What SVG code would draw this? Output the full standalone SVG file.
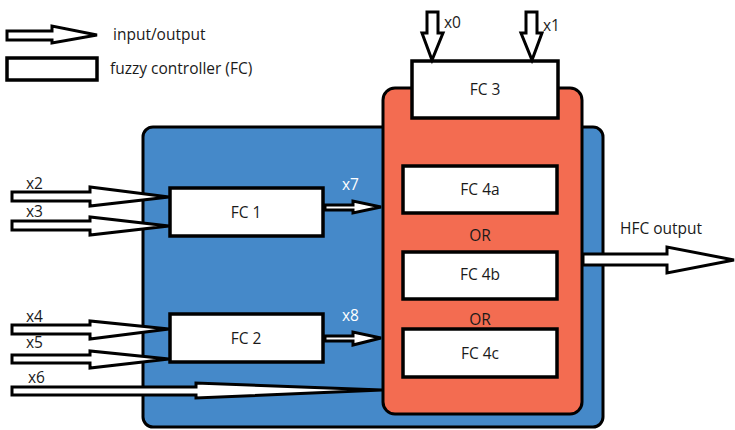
<svg xmlns="http://www.w3.org/2000/svg" width="735" height="430" viewBox="0 0 735 430">
<style>
.txt{font-family:"Open Sans","Noto Sans",sans-serif;font-size:15.5px;fill:#1a1a1a}
.wt{font-family:"Open Sans","Noto Sans",sans-serif;font-size:15.5px;fill:#ffffff}
.box{fill:#ffffff;stroke:#000;stroke-width:3.5}
.arr{fill:#ffffff;stroke:#000;stroke-width:3;stroke-linejoin:miter}
</style>
<rect width="735" height="430" fill="#ffffff"/>
<g id="legend">
<polygon class="arr" points="7,31 52,31 52,26 97,35 52,43 52,40 7,40"/>
<text class="txt" x="113" y="40">input/output</text>
<rect class="box" x="7" y="58" width="90" height="22"/>
<text class="txt" x="110" y="74">fuzzy controller (FC)</text>
</g>
<g id="hfc-block">
<rect x="143" y="127" width="460" height="300" rx="10" fill="#4589C9" stroke="#000" stroke-width="3"/>
</g>
<g id="fc4-group">
<rect x="383" y="88" width="199" height="326" rx="12" fill="#F36C51" stroke="#000" stroke-width="3"/>
</g>
<g id="fc3">
<rect class="box" x="412" y="61" width="146" height="57"/>
<text class="txt" x="485" y="95" text-anchor="middle">FC 3</text>
</g>
<g id="fc1">
<rect class="box" x="170" y="188" width="153" height="48"/>
<text class="txt" x="246" y="218" text-anchor="middle">FC 1</text>
</g>
<g id="fc2">
<rect class="box" x="170" y="314" width="153" height="48"/>
<text class="txt" x="246" y="344" text-anchor="middle">FC 2</text>
</g>
<g id="fc4a">
<rect class="box" x="403" y="166" width="154" height="47"/>
<text class="txt" x="480" y="195" text-anchor="middle">FC 4a</text>
</g>
<g id="fc4b">
<rect class="box" x="403" y="252" width="154" height="47"/>
<text class="txt" x="480" y="280" text-anchor="middle">FC 4b</text>
</g>
<g id="fc4c">
<rect class="box" x="403" y="329" width="154" height="48"/>
<text class="txt" x="480" y="359" text-anchor="middle">FC 4c</text>
</g>
<g id="or-labels">
<text class="txt" x="480" y="241" text-anchor="middle">OR</text>
<text class="txt" x="480" y="325" text-anchor="middle">OR</text>
</g>
<g id="connectors">
<polygon class="arr" points="427,12 438,12 438,33 443,33 432,60 422,33 427,33"/>
<text class="txt" x="444" y="28">x0</text>
<polygon class="arr" points="526,12 537,12 537,33 542,33 532,60 521,33 526,33"/>
<text class="txt" x="543" y="31">x1</text>
<polygon class="arr" points="12,192 90,192 90,187 169,197 90,206 90,201 12,201"/>
<text class="txt" x="26" y="189">x2</text>
<polygon class="arr" points="12,221 90,221 90,217 169,226 90,235 90,230 12,230"/>
<text class="txt" x="26" y="217">x3</text>
<polygon class="arr" points="12,325 90,325 90,321 169,329 90,339 90,334 12,334"/>
<text class="txt" x="26" y="322">x4</text>
<polygon class="arr" points="12,355 90,355 90,351 169,359 90,368 90,363 12,363"/>
<text class="txt" x="26" y="348">x5</text>
<polygon class="arr" points="12,387 196,387 196,383 382,390 196,398 196,395 12,395"/>
<text class="txt" x="28" y="383">x6</text>
<polygon class="arr" points="325,205 353,205 353,201 381,207 353,213 353,210 325,210"/>
<text class="wt" x="342" y="190">x7</text>
<polygon class="arr" points="325,336 353,336 353,332 381,338 353,345 353,341 325,341"/>
<text class="wt" x="342" y="321">x8</text>
<polygon class="arr" points="583,254 667,254 667,247 734,260 667,273 667,265 583,265"/>
<text class="txt" x="620" y="234">HFC output</text>
</g>
</svg>
